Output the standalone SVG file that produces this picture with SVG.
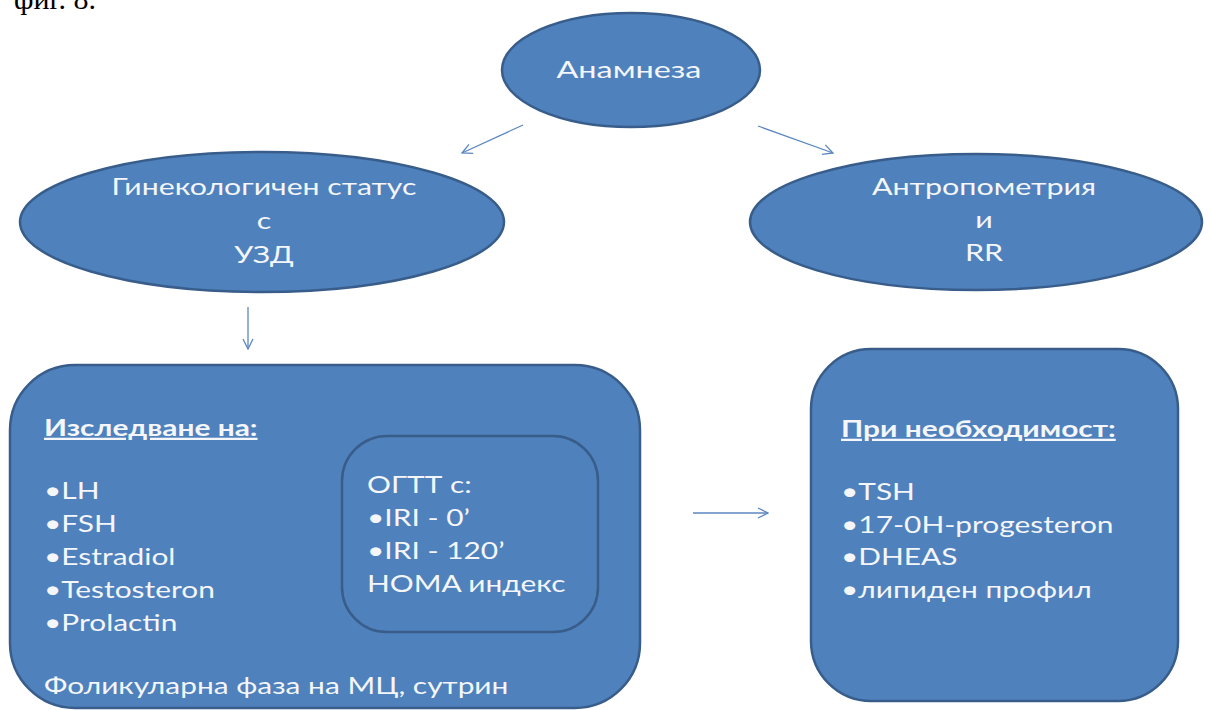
<svg xmlns="http://www.w3.org/2000/svg" width="1211" height="710" viewBox="0 0 1211 710">
<defs>
<style>
.shape{fill:#4f81bd;stroke:#385d8a;stroke-width:2.5}
.t{font-family:Lato,"Open Sans","Noto Sans",sans-serif;fill:#f4f6fa;font-size:23px}
.e{font-size:24px}
.c{text-anchor:middle}
.h{font-weight:bold;text-decoration:underline}
.conn{stroke:#5b87c0;stroke-width:1.3;fill:none;marker-end:url(#ah)}
</style>
<marker id="ah" viewBox="0 0 12 12" refX="11" refY="6" markerWidth="12" markerHeight="12" markerUnits="userSpaceOnUse" orient="auto">
<path d="M1,1 L11,6 L1,11" fill="none" stroke="#5b87c0" stroke-width="1.3"/>
</marker>
</defs>
<rect width="1211" height="710" fill="#ffffff"/>
<text x="14" y="9" font-family="Liberation Serif,serif" font-size="30" fill="#000">фиг. 8.</text>
<g id="connectors">
<line class="conn" x1="523" y1="125" x2="462" y2="153"/>
<line class="conn" x1="758" y1="126" x2="833" y2="153"/>
<line class="conn" x1="248" y1="307" x2="248" y2="349"/>
<line class="conn" x1="693" y1="513" x2="768" y2="513"/>
</g>
<g id="anamneza">
<ellipse class="shape" cx="631" cy="70" rx="129" ry="57"/>
<text class="t e c" transform="translate(629,78) scale(1.35,1)">Анамнеза</text>
</g>
<g id="gyn">
<ellipse class="shape" cx="262" cy="222" rx="242" ry="70"/>
<text class="t e c" transform="translate(264,195) scale(1.26,1)">Гинекологичен статус</text>
<text class="t e c" transform="translate(264,229) scale(1.26,1)">с</text>
<text class="t e c" transform="translate(264,263) scale(1.26,1)">УЗД</text>
</g>
<g id="antro">
<ellipse class="shape" cx="976" cy="222" rx="226" ry="68"/>
<text class="t e c" transform="translate(984,195) scale(1.27,1)">Антропометрия</text>
<text class="t e c" transform="translate(984,228) scale(1.27,1)">и</text>
<text class="t e c" transform="translate(984,261) scale(1.27,1)">RR</text>
</g>
<g id="izsledvane">
<rect class="shape" x="10" y="365" width="630" height="343" rx="65" ry="65"/>
<g transform="translate(44,0) scale(1.3,1)">
<text class="t h" x="0" y="436">Изследване на:</text>
<text class="t" x="0" y="499">•LH</text>
<text class="t" x="0" y="532">•FSH</text>
<text class="t" x="0" y="565">•Estradiol</text>
<text class="t" x="0" y="598">•Testosteron</text>
<text class="t" x="0" y="631">•Prolactin</text>
<text class="t" x="0" y="694">Фоликуларна фаза на МЦ, сутрин</text>
</g>
</g>
<g id="ogtt">
<rect class="shape" x="342" y="436" width="256" height="196" rx="45" ry="45"/>
<g transform="translate(367,0) scale(1.3,1)">
<text class="t" x="0" y="493">ОГТТ с:</text>
<text class="t" x="0" y="526">•IRI - 0’</text>
<text class="t" x="0" y="559">•IRI - 120’</text>
<text class="t" x="0" y="592">HOMA индекс</text>
</g>
</g>
<g id="neobhodimost">
<rect class="shape" x="811" y="349" width="367" height="352" rx="60" ry="60"/>
<g transform="translate(841,0) scale(1.3,1)">
<text class="t h" x="0" y="437">При необходимост:</text>
<text class="t" x="0" y="500">•TSH</text>
<text class="t" x="0" y="533">•17-0H-progesteron</text>
<text class="t" x="0" y="565">•DHEAS</text>
<text class="t" x="0" y="598">•липиден профил</text>
</g>
</g>
</svg>
